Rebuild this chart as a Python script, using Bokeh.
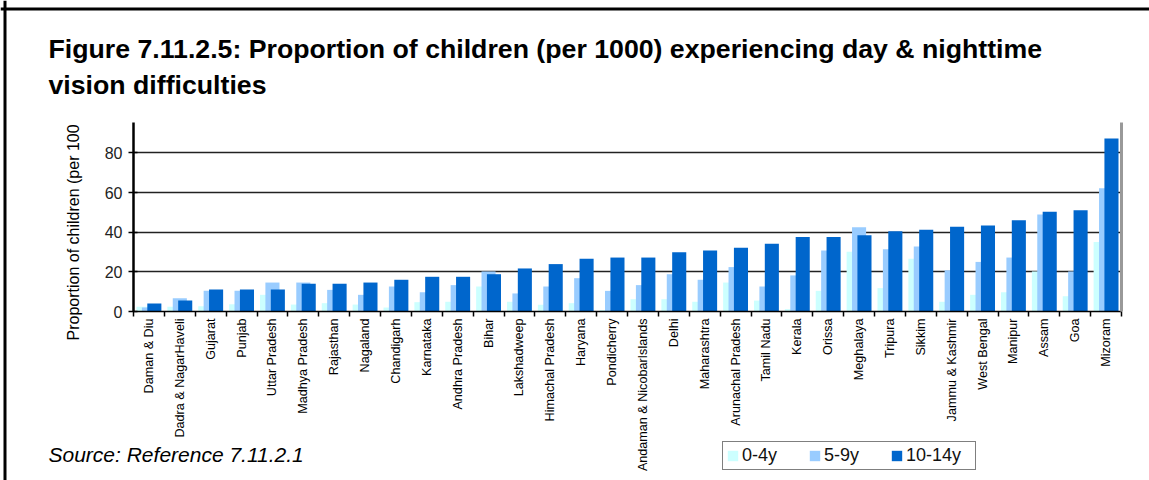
from math import pi
from bokeh.plotting import figure
from bokeh.models import (ColumnDataSource, FixedTicker, LinearAxis, Range1d,
                          Legend, LegendItem, Label, Span, Grid)
from bokeh.transform import dodge
from bokeh.embed import file_html
from bokeh.resources import INLINE

# ---------------- data ----------------
states = ["Daman & Diu", "Dadra & NagarHaveli", "Gujarat", "Punjab", "Uttar Pradesh",
          "Madhya Pradesh", "Rajasthan", "Nagaland", "Chandigarh", "Karnataka",
          "Andhra Pradesh", "Bihar", "Lakshadweep", "Himachal Pradesh", "Haryana",
          "Pondicherry", "Andaman & NicobarIslands", "Delhi", "Maharashtra",
          "Arunachal Pradesh", "Tamil Nadu", "Kerala", "Orissa", "Meghalaya",
          "Tripura", "Sikkim", "Jammu & Kashmir", "West Bengal", "Manipur",
          "Assam", "Goa", "Mizoram"]
age_0_4 = [2.4, 2.4, 2.7, 3.7, 8.4, 3.5, 4.2, 3.5, 2.0, 4.7,
           4.9, 12.6, 4.9, 3.4, 4.2, 0.7, 6.2, 6.2, 4.9, 14.6,
           5.5, 1.2, 10.4, 30.1, 11.8, 26.6, 4.9, 8.4, 9.7, 20.2,
           7.7, 35.0]
age_5_9 = [2.0, 6.7, 10.4, 10.4, 14.6, 14.6, 10.9, 8.4, 12.6, 9.7,
           13.3, 20.2, 9.1, 12.6, 16.8, 10.4, 13.3, 18.8, 16.0, 22.4,
           12.6, 18.2, 30.8, 42.5, 31.4, 32.8, 20.8, 25.0, 27.2, 48.9,
           20.2, 62.2]
age_10_14 = [4.0, 5.5, 11.1, 11.1, 11.1, 14.0, 14.0, 14.6, 16.0, 17.5,
             17.5, 18.8, 21.7, 23.9, 26.6, 27.2, 27.2, 29.9, 30.8, 32.1,
             34.1, 37.6, 37.6, 38.5, 40.5, 41.2, 42.7, 43.4, 46.0, 50.3,
             51.1, 87.2]
series_labels = ["0-4y", "5-9y", "10-14y"]
series_colors = ["#CCFFFF", "#99CCFF", "#0066CC"]
y_ticks = [0, 20, 40, 60, 80]
y_max = 95.3

title_line1 = "Figure 7.11.2.5: Proportion of children (per 1000) experiencing day & nighttime"
title_line2 = "vision difficulties"
y_title = "Proportion of children (per 100"
source_text = "Source: Reference 7.11.2.1"

# ---------------- layout (pixels) ----------------
W, H = 1149, 480
plot_left, plot_right = 133, 1121      # pixel x of category 0 / category end
plot_zero, plot_top = 311, 122         # pixel y of value 0 / value y_max

n = len(states)
ppx = (plot_right - plot_left) / n
ppy = (plot_zero - plot_top) / y_max
x_start = -plot_left / ppx
x_end = n + (W - plot_right) / ppx
y_start = -(H - plot_zero) / ppy
y_end = y_max + plot_top / ppy

centers = [i + 0.5 for i in range(n)]
boundaries = list(range(n + 1))
src = ColumnDataSource(dict(x=centers, a=age_0_4, b=age_5_9, c=age_10_14))

p = figure(width=W, height=H, frame_width=W, frame_height=H,
           min_border=0, min_border_left=0, min_border_right=0,
           min_border_top=0, min_border_bottom=0,
           x_range=Range1d(x_start, x_end), y_range=Range1d(y_start, y_end),
           output_backend="svg", toolbar_location=None)
p.outline_line_color = None
p.background_fill_color = "white"
p.border_fill_color = "white"

bar_w = 0.456
off = 0.175
renderers = []
for col, dx, color in zip(["a", "b", "c"], [-off, 0, off], series_colors):
    r = p.vbar(x=dodge("x", dx, range=p.x_range), top=col, bottom=0, width=bar_w,
               source=src, fill_color=color, line_color=None)
    renderers.append(r)

# grid
p.xgrid.visible = False
if "cross_bounds" in Grid.properties():
    p.ygrid.ticker = FixedTicker(ticks=y_ticks[1:])
    p.ygrid.cross_bounds = (0, n)
    p.ygrid.grid_line_color = "#222222"
    p.ygrid.grid_line_width = 1.5
else:
    p.ygrid.visible = False
    gsrc = ColumnDataSource(dict(y=y_ticks[1:], x0=[0] * len(y_ticks[1:]),
                                 x1=[n] * len(y_ticks[1:])))
    p.segment(x0="x0", x1="x1", y0="y", y1="y", source=gsrc,
              line_color="#222222", line_width=1.5)

# y axis (fixed at x=0)
ya = p.yaxis[0]
ya.fixed_location = 0
ya.bounds = (0, y_max)
ya.ticker = FixedTicker(ticks=y_ticks)
ya.axis_line_color = "black"
ya.axis_line_width = 2.5
ya.major_tick_line_color = "black"
ya.major_tick_line_width = 1.5
ya.major_tick_in = 4
ya.major_tick_out = 5
ya.minor_tick_line_color = None
ya.major_label_text_font = "Liberation Sans"
ya.major_label_text_font_size = "16px"
ya.major_label_text_color = "#222222"
ya.major_label_standoff = 6

# x axis (fixed at y=0)
xa = p.xaxis[0]
xa.fixed_location = 0
xa.bounds = (0, n)
xa.ticker = FixedTicker(ticks=centers, minor_ticks=boundaries)
xa.major_label_overrides = {c: s for c, s in zip(centers, states)}
xa.major_tick_in = 0
xa.major_tick_out = 0
xa.major_tick_line_color = None
xa.minor_tick_in = 0
xa.minor_tick_out = 5
xa.minor_tick_line_color = "black"
xa.minor_tick_line_width = 1.5
xa.axis_line_color = "black"
xa.axis_line_width = 1.5
xa.major_label_orientation = pi / 2
xa.major_label_standoff = 2
xa.major_label_text_font = "Liberation Sans"
xa.major_label_text_font_size = "12.6px"
xa.major_label_text_color = "black"

# right wall line
ra = LinearAxis(fixed_location=n, bounds=(0, y_max),
                ticker=FixedTicker(ticks=[]), axis_line_color="#999999",
                axis_line_width=3, major_tick_line_color=None,
                minor_tick_line_color=None, major_label_text_font_size="0px")
p.add_layout(ra, "right")

# outer frame lines (top and left)
p.add_layout(Span(location=H - 8.5, location_units="screen", dimension="width",
                  line_color="black", line_width=3))
p.add_layout(Span(location=4.5, location_units="screen", dimension="height",
                  line_color="black", line_width=3))

# texts (screen units from bottom-left)
p.add_layout(Label(x=48, y=H - 48, x_units="screen", y_units="screen",
                   text=title_line1, text_font="Liberation Sans",
                   text_font_size="26.7px", text_font_style="bold",
                   text_color="black", text_baseline="alphabetic"))
p.add_layout(Label(x=48, y=H - 84, x_units="screen", y_units="screen",
                   text=title_line2, text_font="Liberation Sans",
                   text_font_size="26.7px", text_font_style="bold",
                   text_color="black", text_baseline="alphabetic"))
p.add_layout(Label(x=73, y=H - 340, x_units="screen", y_units="screen",
                   text=y_title, angle=pi / 2, text_align="left",
                   text_baseline="middle", text_font="Liberation Sans",
                   text_font_size="16px", text_color="black"))
p.add_layout(Label(x=48, y=H - 454, x_units="screen", y_units="screen",
                   text=source_text, text_font="Liberation Sans",
                   text_font_size="21px", text_font_style="italic",
                   text_color="black", text_baseline="alphabetic"))

legend = Legend(items=[LegendItem(label=l, renderers=[r])
                       for l, r in zip(series_labels, renderers)],
                orientation="horizontal", location=(722, H - 470),
                padding=3, spacing=0, margin=0,
                glyph_width=13, glyph_height=13, label_standoff=3,
                label_width=66, label_height=16,
                label_text_font="Liberation Sans", label_text_font_size="18px",
                label_text_color="#111111",
                border_line_color="black", border_line_width=1.5,
                background_fill_color="white", background_fill_alpha=1.0)
p.add_layout(legend)

open("out.html", "w").write(file_html(p, INLINE))
